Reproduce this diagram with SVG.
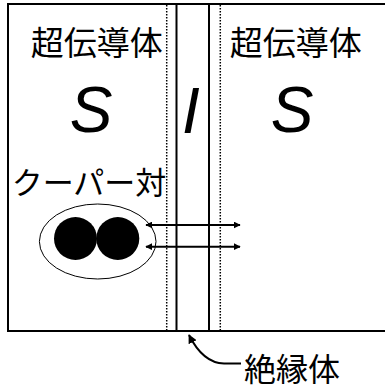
<svg xmlns="http://www.w3.org/2000/svg" width="385" height="387" viewBox="0 0 385 387">
  <defs>
    <marker id="head" viewBox="0 0 10 10" refX="9" refY="5" markerWidth="7" markerHeight="7" markerUnits="userSpaceOnUse" orient="auto-start-reverse">
      <path d="M0,0 L10,5 L0,10 z" fill="#000"/>
    </marker>
    <marker id="head2" viewBox="0 0 10 10" refX="9" refY="5" markerWidth="9" markerHeight="9" markerUnits="userSpaceOnUse" orient="auto">
      <path d="M0,0 L10,5 L0,10 z" fill="#000"/>
    </marker>
  </defs>
  <style>
    .jp { font-family: "Noto Sans CJK JP", "Noto Sans", sans-serif; fill: #000; }
    .big { font-family: "Liberation Sans", Arial, sans-serif; font-style: italic; font-size: 64px; fill: #000; }
    .edge { stroke: #000; stroke-width: 2; fill: none; }
    .dot { stroke: #000; stroke-width: 1.5; stroke-dasharray: 1.5 1.5; fill: none; }
    .arr { stroke: #000; stroke-width: 2; fill: none; }
  </style>
  <rect width="385" height="387" fill="#fff"/>

  <!-- superconductor / insulator / superconductor junction -->
  <g id="junction">
    <path class="edge" d="M385,4 H8 V331 H385"/>
    <line class="edge" x1="176.5" y1="4" x2="176.5" y2="331"/>
    <line class="edge" x1="209" y1="4" x2="209" y2="331"/>
    <line class="dot" x1="166.7" y1="5" x2="166.7" y2="330"/>
    <line class="dot" x1="220.3" y1="5" x2="220.3" y2="330"/>
  </g>

  <g id="left-s">
    <text class="jp" x="96.7" y="55" font-size="33" text-anchor="middle">超伝導体</text>
    <text class="big" x="91" y="132" text-anchor="middle">S</text>
  </g>

  <g id="insulator-i">
    <text class="big" x="191" y="133" text-anchor="middle">I</text>
  </g>

  <g id="right-s">
    <text class="jp" x="295.8" y="55" font-size="33" text-anchor="middle">超伝導体</text>
    <text class="big" x="292" y="132" text-anchor="middle">S</text>
  </g>

  <g id="cooper-pair">
    <text class="jp" x="89" y="194" font-size="31" text-anchor="middle">クーパー対</text>
    <ellipse cx="97.7" cy="241.5" rx="58.3" ry="37.5" fill="none" stroke="#000" stroke-width="1"/>
    <circle cx="75.5" cy="238.5" r="21.5" fill="#000"/>
    <circle cx="117.8" cy="238.5" r="21.5" fill="#000"/>
  </g>

  <g id="insulator-label">
    <text class="jp" x="292" y="381" font-size="32" text-anchor="middle">絶縁体</text>
  </g>

  <g id="connectors">
    <line class="arr" x1="146" y1="225" x2="240" y2="225" marker-start="url(#head)" marker-end="url(#head)"/>
    <line class="arr" x1="146" y1="246.7" x2="240" y2="246.7" marker-start="url(#head)" marker-end="url(#head)"/>
    <path class="arr" d="M241,363.5 L224,363.5 Q203,363 189,335" marker-end="url(#head2)"/>
  </g>
</svg>
